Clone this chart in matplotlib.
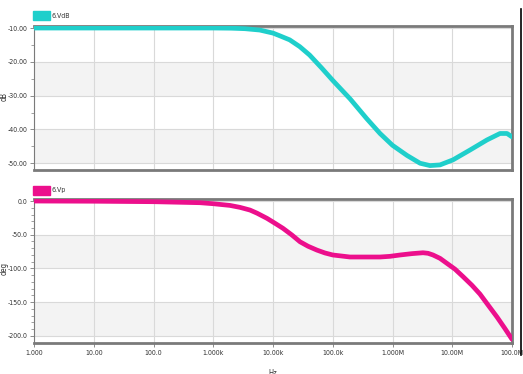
import numpy as np
import matplotlib
matplotlib.use('Agg')
import matplotlib.pyplot as plt
from matplotlib.patches import Rectangle
from matplotlib.lines import Line2D

plt.rcParams['font.family'] = ['DejaVu Sans']
plt.rcParams['font.stretch'] = 'condensed'

# 6.VdB magnitude trace
freq_db = [1, 100, 1e3, 2e3, 3.4e3, 6e3, 1e4, 1.3e4, 1.9e4, 2.8e4, 4.1e4,
           6.5e4, 1e5, 1.96e5, 3.7e5, 6.18e5, 1e6, 1.75e6, 2.89e6, 4.24e6,
           6.24e6, 1.03e7, 1.98e7, 3.82e7, 6.3e7, 8.25e7, 1e8]
vdb = [-10.0, -10.0, -10.0, -10.05, -10.2, -10.6, -11.5, -12.3, -13.5, -15.5,
       -18.0, -21.8, -25.5, -31.0, -36.8, -41.2, -44.7, -47.7, -50.0, -50.7,
       -50.5, -49.0, -46.1, -43.1, -41.2, -41.2, -42.2]

# 6.Vp phase trace
freq_p = [1, 10, 100, 600, 1e3, 1.9e3, 2.8e3, 4.12e3, 5.4e3, 7.94e3, 1.08e4,
          1.47e4, 2.08e4, 2.83e4, 3.85e4, 5.45e4, 7.4e4, 1e5, 1.94e5, 6.18e5,
          9.08e5, 1.34e6, 2.12e6, 3.24e6, 3.93e6, 4.76e6, 6.24e6, 8.17e6,
          1.11e7, 1.51e7, 2.14e7, 2.91e7, 3.96e7, 5.61e7, 7.6e7, 1e8]
vp = [0.0, -0.3, -1.0, -2.5, -4.0, -6.5, -9.4, -13.4, -18.0, -25.7, -33.0,
      -40.5, -50.5, -60.4, -67.0, -72.8, -77.0, -80.0, -83.0, -83.0,
      -82.0, -80.0, -78.0, -76.7, -77.5, -80.0, -85.0, -92.5,
      -101.0, -112.0, -125.0, -138.0, -154.0, -172.0, -189.0, -205.0]

x_ticks = [1, 10, 100, 1e3, 1e4, 1e5, 1e6, 1e7, 1e8]
x_labels = ['1.000', '10.00', '100.0', '1.000k', '10.00k', '100.0k',
            '1.000M', '10.00M', '100.0M']
db_ticks = [-10, -20, -30, -40, -50]
db_labels = ['-10.00', '-20.00', '-30.00', '-40.00', '-50.00']
deg_ticks = [0, -50, -100, -150, -200]
deg_labels = ['0.0', '-50.0', '-100.0', '-150.0', '-200.0']

cyan = '#1fcfcb'
pink = '#ec0f8c'
frame = '#7a7a7a'
grid = '#d9d9d9'
band = '#f3f3f3'
txt = '#333333'

fig = plt.figure(figsize=(5.23, 3.74), dpi=100)
ax1 = fig.add_axes([0.065, 0.5455, 0.914, 0.385])
ax2 = fig.add_axes([0.065, 0.082, 0.914, 0.385])


def style(ax, ticks, labels, minor_step, ylim, bands):
    ax.set_xscale('log')
    ax.set_xlim(1, 1e8)
    ax.set_ylim(*ylim)
    for lo, hi in bands:
        ax.axhspan(lo, hi, color=band, zorder=0, lw=0)
    ax.set_yticks(ticks)
    ax.set_yticklabels(labels)
    ax.set_yticks(np.arange(ticks[-1], ticks[0] + 1, minor_step), minor=True)
    ax.set_xticks(x_ticks)
    ax.xaxis.set_minor_locator(plt.NullLocator())
    ax.grid(True, which='major', color=grid, lw=0.8, zorder=1)
    ax.set_axisbelow(True)
    ax.tick_params(axis='y', which='major', length=3, width=0.6, color=frame,
                   labelsize=5, pad=1.5, labelcolor=txt)
    ax.tick_params(axis='y', which='minor', length=2, width=0.5, color=frame)
    ax.spines['left'].set_color(frame)
    ax.spines['left'].set_linewidth(0.8)
    for s in ('top', 'bottom', 'right'):
        ax.spines[s].set_color(frame)
        ax.spines[s].set_linewidth(2)


style(ax1, db_ticks, db_labels, 5, (-52.0, -9.4),
      [(-30, -20), (-50, -40)])
style(ax2, deg_ticks, deg_labels, 10, (-211.0, 2.5),
      [(-100, -50), (-200, -150)])

ax1.plot(freq_db, vdb, color=cyan, lw=3.4, solid_capstyle='round',
         solid_joinstyle='round', zorder=3)
ax2.plot(freq_p, vp, color=pink, lw=3.4, solid_capstyle='round',
         solid_joinstyle='round', zorder=3)

ax1.tick_params(axis='x', length=0, labelbottom=False)
ax2.set_xticklabels(x_labels)
ax2.tick_params(axis='x', length=3, width=0.6, color=frame, labelsize=5,
                pad=2, labelcolor=txt)

# legend swatches
fig.add_artist(Rectangle((0.063, 0.9465), 0.033, 0.024, transform=fig.transFigure,
                         color=cyan))
fig.text(0.0994, 0.958, '6.VdB', fontsize=5, va='center', color=txt)
fig.add_artist(Rectangle((0.063, 0.479), 0.033, 0.025, transform=fig.transFigure,
                         color=pink))
fig.text(0.0994, 0.492, '6.Vp', fontsize=5, va='center', color=txt)

fig.text(0.008, 0.743, 'dB', rotation=90, fontsize=5.5, va='center', ha='center',
         color=txt)
fig.text(0.008, 0.281, 'deg', rotation=90, fontsize=5.5, va='center', ha='center',
         color=txt)
fig.text(0.522, 0.013, 'Hz', fontsize=5.5, va='top', ha='center', color=txt)

fig.add_artist(Line2D([0.997, 0.997], [0.05, 0.975], transform=fig.transFigure,
                      color='black', lw=1.2))

fig.savefig('out.png', dpi=100)
